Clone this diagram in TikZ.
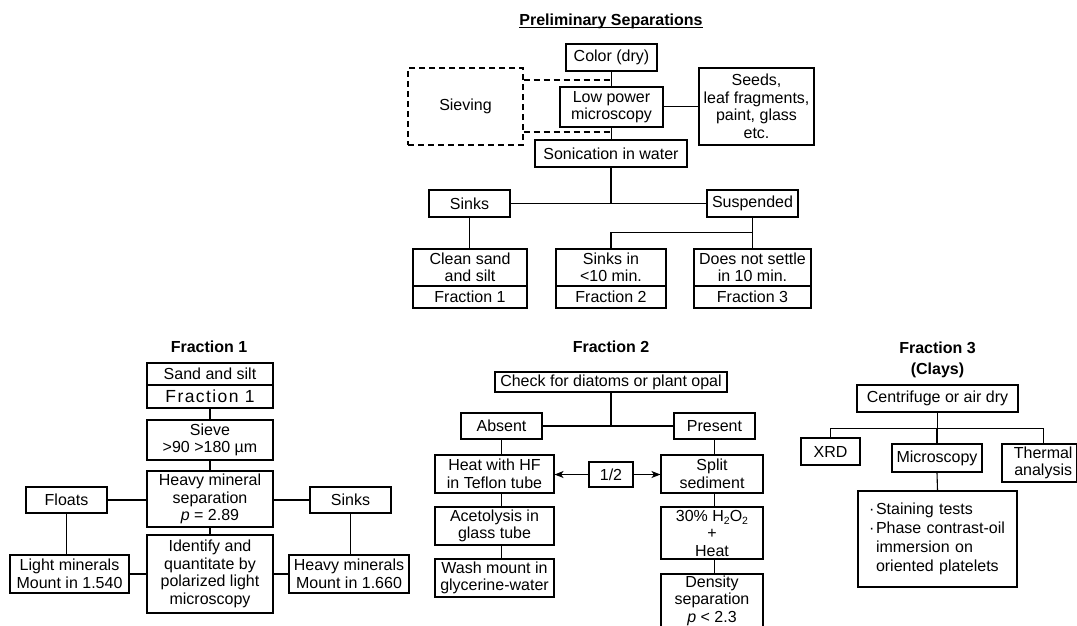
\documentclass[tikz,border=0pt]{standalone}
\usepackage{fontspec}
\setmainfont{Liberation Sans}
\usetikzlibrary{arrows.meta}

% box from corner (x1,y1) to (x2,y2), name, text
\newcommand\mkbox[7][]{%
  \node[box,#1,minimum width={(#5-#3)*1pt},minimum height={(#6-#4)*1pt}]
    (#2) at ({(#3+#5)/2},{(#4+#6)/2}) {#7};}
\newcommand\sbt[1]{\raisebox{-3.5pt}{\fontsize{10.5}{10.5}\selectfont #1}}

\tikzset{
  box/.style={draw,line width=1.1pt,rectangle,inner sep=0pt,align=center,
    font=\fontsize{16}{17.5}\selectfont},
  dashbox/.style={line width=1.1pt,dash pattern=on 6pt off 4pt},
  wire/.style={line width=1.1pt},
  ttl/.style={inner sep=0pt,align=center,font=\fontsize{16}{21}\selectfont\bfseries},
  tip/.style={-{Stealth[length=9pt,width=7pt,inset=2.5pt]}}
}

\begin{document}
\begin{tikzpicture}[x=1pt,y=-1pt]
\useasboundingbox (0,0) rectangle (1077,625);
\clip (0,0) rectangle (1077,625);

% ---------------- Preliminary separations ----------------
\node[ttl,anchor=base] (ptitle) at (611,25) {Preliminary Separations};
\draw[line width=0.9pt] ([yshift=-2pt]ptitle.base west) -- ([yshift=-2pt]ptitle.base east);

\mkbox{color}{566}{44}{657}{71}{Color (dry)}
\mkbox[dashbox]{sieve}{408}{68}{523}{145}{Sieving}
\mkbox{lowpow}{560}{87}{663}{127}{Low power\\microscopy}
\mkbox{seeds}{699}{68}{814}{145}{Seeds,\\leaf fragments,\\paint, glass\\etc.}
\mkbox{sonic}{535}{140}{687}{167}{Sonication in water}
\mkbox{sinks}{429}{190}{510}{217}{Sinks}
\mkbox{susp}{707}{190}{798}{217}{Suspended}
\mkbox{clean}{413}{249}{527}{286}{Clean sand\\and silt}
\mkbox{fra}{413}{286}{527}{308}{Fraction 1}
\mkbox{sinksin}{556}{249}{666}{286}{Sinks in\\<10 min.}
\mkbox{frb}{556}{286}{666}{308}{Fraction 2}
\mkbox{settle}{694}{249}{811}{286}{Does not settle\\in 10 min.}
\mkbox{frc}{694}{286}{811}{308}{Fraction 3}

\coordinate (d1) at (612,80);
\coordinate (d2) at (612,132);
\coordinate (j2) at (752.5,232.5);
\draw[dashbox] (sieve.east |- d1) -- (d1);
\draw[dashbox] (sieve.east |- d2) -- (d2);
\draw[wire] (color.south) -- (lowpow.north);
\draw[wire] (lowpow.south) -- (lowpow.south |- sonic.north);
\draw[wire] (lowpow.east |- seeds.west) -- (seeds.west);
\draw[wire] (sonic.south) -- (sonic.south |- sinks.east);
\draw[wire] (sinks.east) -- (susp.west);
\draw[wire] (sinks.south) -- (sinks.south |- clean.north);
\draw[wire] (susp.south) -- (susp.south |- settle.north);
\draw[wire] (sinksin.north) |- (j2);

% ---------------- Fraction 1 ----------------
\node[ttl,anchor=base] (t1) at (209,352) {Fraction 1};
\mkbox{sand}{147}{363}{273}{385}{Sand and silt}
\mkbox[font=\fontsize{17.5}{18}\selectfont\addfontfeature{LetterSpace=8}]{sandfr}{147}{385}{273}{408}{Fraction 1}
\mkbox{sievebox}{147}{420}{273}{460}{Sieve\\>90 >180 µm}
\mkbox{heavy}{147}{471}{273}{527}{Heavy mineral\\separation\\\textit{p} = 2.89}
\mkbox{floats}{26}{487}{107}{513}{Floats}
\mkbox{sinksb}{310}{487}{391}{513}{Sinks}
\mkbox{ident}{147}{535}{273}{613}{Identify and\\quantitate by\\polarized light\\microscopy}
\mkbox{light}{10}{555}{129}{593}{Light minerals\\Mount in 1.540}
\mkbox{heavymin}{289}{555}{409}{593}{Heavy minerals\\Mount in 1.660}

\draw[wire] (sandfr.south) -- (sievebox.north);
\draw[wire] (sievebox.south) -- (heavy.north);
\draw[wire] (heavy.south) -- (ident.north);
\draw[wire] (floats.east) -- (heavy.west |- floats.east);
\draw[wire] (heavy.east |- sinksb.west) -- (sinksb.west);
\draw[wire] (floats.south) -- (floats.south |- light.north);
\draw[wire] (sinksb.south) -- (sinksb.south |- heavymin.north);
\draw[wire] (light.east) -- (ident.west |- light.east);
\draw[wire] (ident.east |- heavymin.west) -- (heavymin.west);

% ---------------- Fraction 2 ----------------
\node[ttl,anchor=base] (t2) at (611,352) {Fraction 2};
\mkbox{check}{495}{372}{727}{392}{Check for diatoms or plant opal}
\mkbox{absent}{461}{413}{542}{439}{Absent}
\mkbox{present}{674}{413}{755}{439}{Present}
\mkbox{heat}{435}{455}{554}{493}{Heat with HF\\in Teflon tube}
\mkbox{half}{589}{462}{633}{487}{1/2}
\mkbox{split}{661}{455}{763}{493}{Split\\sediment}
\mkbox{aceto}{435}{507}{554}{545}{Acetolysis in\\glass tube}
\mkbox{wash}{435}{559}{554}{597}{Wash mount in\\glycerine-water}
\mkbox{hoo}{661}{507}{763}{559}{30\% H\sbt{2}O\sbt{2}\\+\\Heat}
\mkbox{density}{661}{574}{763}{627}{Density\\separation\\\textit{p} < 2.3}

\draw[wire] (check.south) -- (check.south |- absent.east);
\draw[wire] (absent.east) -- (present.west);
\draw[wire] (absent.south) -- (absent.south |- heat.north);
\draw[wire] (absent.south |- heat.south) -- (absent.south |- aceto.north);
\draw[wire] (absent.south |- aceto.south) -- (absent.south |- wash.north);
\draw[wire] (present.south) -- (present.south |- split.north);
\draw[wire] (present.south |- split.south) -- (present.south |- hoo.north);
\draw[wire] (present.south |- hoo.south) -- (present.south |- density.north);
\draw[wire,tip] (half.west) -- (heat.east |- half.west);
\draw[wire,tip] (half.east) -- (split.west |- half.east);

% ---------------- Fraction 3 ----------------
\node[ttl] (t3) at (937.5,360) {Fraction 3\\(Clays)};
\mkbox{centri}{857}{385}{1018}{412}{Centrifuge or air dry}
\mkbox{xrd}{801}{438}{860}{465}{XRD}
\mkbox{micro}{892}{444}{982}{472}{Microscopy}
\mkbox{thermal}{1002}{444}{1076.4}{482}{\hspace*{8pt}Thermal\\\hspace*{8pt}analysis}
\mkbox[align=left,text width=137pt,font=\fontsize{16}{19}\selectfont]{stain}{858}{491}{1017}{587}{%
  \makebox[7pt][l]{·}Staining tests\\
  \makebox[7pt][l]{·}Phase contrast-oil\\
  \hspace*{7pt}immersion on\\
  \hspace*{7pt}oriented platelets}

\coordinate (bar) at (1043.3,428.3);
\draw[wire] (centri.south) -- (centri.south |- bar);
\draw[wire] (xrd.north) |- (bar);
\draw[wire] (bar) -- (bar |- thermal.north);
\draw[wire] (micro.north) -- (micro.north |- bar);
\draw[wire] (micro.south) -- (stain.north);

\end{tikzpicture}
\end{document}
